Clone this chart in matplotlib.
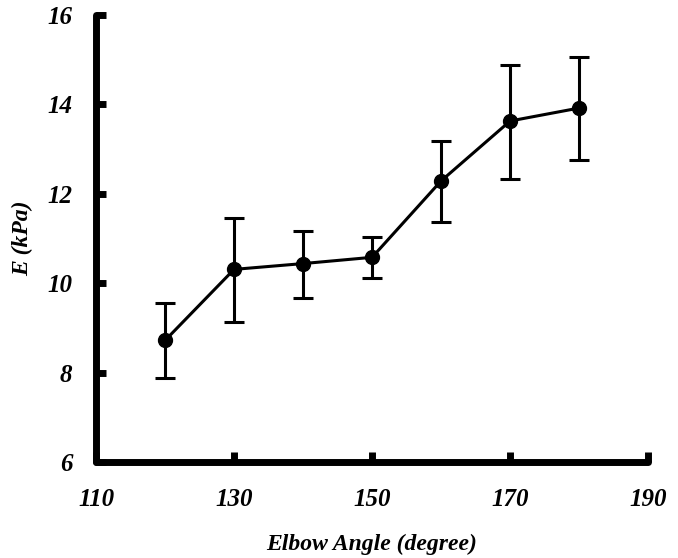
import numpy as np
import matplotlib
matplotlib.use("Agg")
import matplotlib.pyplot as plt

# ---- data -----------------------------------------------------------------
angle = [120, 130, 140, 150, 160, 170, 180]
E_mean = [8.72, 10.31, 10.44, 10.58, 12.29, 13.63, 13.92]
E_low = [7.89, 9.13, 9.68, 10.12, 11.38, 12.34, 12.76]
E_high = [9.56, 11.46, 11.17, 11.04, 13.18, 14.89, 15.06]

xticks = [110, 130, 150, 170, 190]
yticks = [6, 8, 10, 12, 14, 16]

mean = np.array(E_mean)
yerr = [mean - np.array(E_low), np.array(E_high) - mean]

font = {"family": "Liberation Serif", "weight": "bold", "style": "italic"}

fig = plt.figure(figsize=(6.78, 5.58), dpi=100)
ax = fig.add_axes([0.1416, 0.172, 0.956 - 0.1416, 0.973 - 0.172])

ax.errorbar(angle, E_mean, yerr=yerr, color="black", lw=2.2,
            marker="o", ms=10, elinewidth=2.2, capsize=7, capthick=2.2)

ax.set_xlim(110, 190)
ax.set_ylim(6, 16)
ax.set_xticks(xticks)
ax.set_yticks(yticks)
ax.set_xticklabels([str(t) for t in xticks], fontdict=dict(font, size=18))
ax.set_yticklabels([str(t) for t in yticks], fontdict=dict(font, size=18))

for s in ["top", "right"]:
    ax.spines[s].set_visible(False)
for s in ["left", "bottom"]:
    ax.spines[s].set_linewidth(5)
    ax.spines[s].set_capstyle("round")
ax.tick_params(direction="in", length=7, width=5, pad=17)
ax.tick_params(axis="x", pad=19)

ax.set_xlabel("Elbow Angle (degree)", fontdict=dict(font, size=17), labelpad=16)
ax.set_ylabel("E (kPa)", fontdict=dict(font, size=17), labelpad=10)

fig.savefig("out.png", dpi=100)
